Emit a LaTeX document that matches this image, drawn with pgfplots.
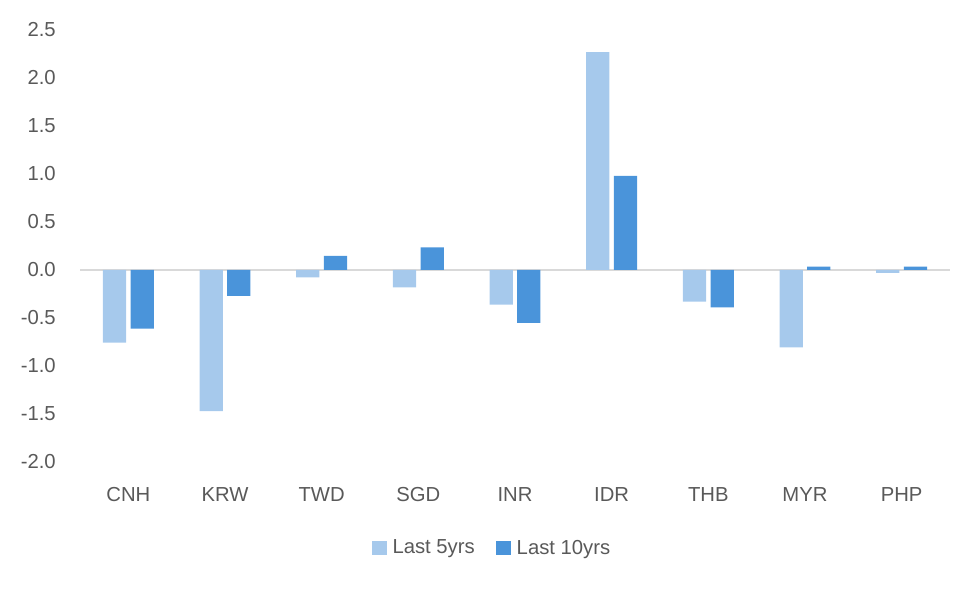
\documentclass[border=0pt]{standalone}
\usepackage{pgfplots}
\pgfplotsset{compat=1.18}
\usepackage{fontspec}
\setmainfont{Liberation Sans}
\definecolor{lightb}{HTML}{A6C9EC}
\definecolor{darkb}{HTML}{4A94DA}
\definecolor{txt}{HTML}{595959}
\definecolor{zl}{HTML}{D9D9D9}
\begin{document}
\begin{tikzpicture}
\useasboundingbox (0,0) rectangle (735pt,441pt);
\begin{axis}[
  at={(60pt,94.5pt)}, anchor=south west,
  scale only axis, width=652.5pt, height=324pt,
  xmin=-0.5, xmax=8.5, ymin=-2.0, ymax=2.5,
  ytick={-2,-1.5,...,2.5},
  xtick={0,...,8},
  xticklabels={CNH,KRW,TWD,SGD,INR,IDR,THB,MYR,PHP},
  axis line style={draw=none},
  major tick length=0pt,
  /pgf/number format/assume math mode=true,
  /pgf/number format/.cd, fixed, fixed zerofill, precision=1, /pgfplots/.cd,
  tick label style={font=\fontsize{15.2}{18}\selectfont, text=txt},
  yticklabel style={anchor=east, inner sep=0pt, xshift=-18pt},
  xticklabel style={anchor=base, inner sep=0pt, yshift=-30pt},
  extra y ticks={0}, extra y tick labels={},
  extra y tick style={grid=major, major grid style={draw=zl, line width=1pt}},
  ybar=0pt, bar width=0.24,
  legend style={draw=none, fill=none, at={(axis description cs:0.474,-0.199)}, anchor=center,
    font=\fontsize{15.2}{18}\selectfont, text=txt, legend columns=2,
    /tikz/every even column/.append style={column sep=14pt}},
  legend image code/.code={\fill[#1] (0pt,-5.6pt) rectangle (11.25pt,5.6pt); \path (13.5pt,0pt);},
]
\addplot[fill=lightb, draw=none, bar shift=-0.143] coordinates {
(0,-0.757) (1,-1.47) (2,-0.076) (3,-0.18) (4,-0.36) (5,2.27) (6,-0.33) (7,-0.805) (8,-0.03)};
\addplot[fill=darkb, draw=none, bar shift=0.143] coordinates {
(0,-0.61) (1,-0.27) (2,0.146) (3,0.235) (4,-0.55) (5,0.98) (6,-0.39) (7,0.035) (8,0.035)};
\legend{Last 5yrs, Last 10yrs}
\end{axis}
\end{tikzpicture}
\end{document}
